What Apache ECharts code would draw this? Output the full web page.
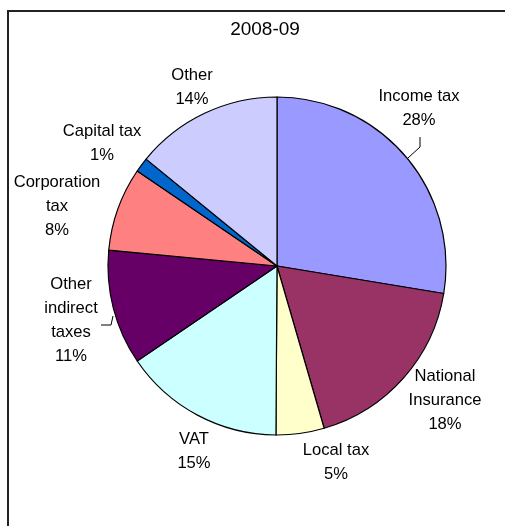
<!DOCTYPE html>
<html>
<head>
<meta charset="utf-8">
<script src="https://cdn.jsdelivr.net/npm/echarts@6/dist/echarts.min.js"></script>
<style>
html,body{margin:0;padding:0;background:#fff;}
#chart{width:505px;height:526px;}
</style>
</head>
<body>
<div id="chart"></div>
<script>
const title = '2008-09';
const categories = ['Income tax', 'National Insurance', 'Local tax', 'VAT', 'Other indirect taxes', 'Corporation tax', 'Capital tax', 'Other'];
const labelNames = ['Income tax', 'National\nInsurance', 'Local tax', 'VAT', 'Other\nindirect\ntaxes', 'Corporation\ntax', 'Capital tax', 'Other'];
const values = [27.6, 17.9, 4.6, 15.4, 11.0, 8.0, 1.4, 14.1];
const colors = ['#9999FF', '#993366', '#FFFFCC', '#CCFFFF', '#660066', '#FF8080', '#0066CC', '#CCCCFF'];

// label centre positions (layout only)
const labelPos = [[419,108],[445,400],[336,462],[194,451],[71,320],[57,206],[102,143],[192,87]];
const leaderLines = {
  0: [[408,158],[420,147],[420,137]],
  4: [[113,316],[111,325],[101,325]]
};

const chart = echarts.init(document.getElementById('chart'));
chart.setOption({
  animation: false,
  backgroundColor: '#fff',
  title: {
    text: title, left: 260, top: 15, textAlign: 'center',
    textStyle: {fontFamily: 'Liberation Sans, Arial, sans-serif', fontSize: 19, fontWeight: 'normal', color: '#000'}
  },
  graphic: [{
    type: 'rect', shape: {x: 8, y: 11, width: 520, height: 540},
    style: {fill: 'none', stroke: '#222', lineWidth: 2}, silent: true
  }],
  series: [{
    type: 'pie',
    center: [277, 266],
    radius: [0, 169],
    startAngle: 90,
    clockwise: true,
    avoidLabelOverlap: false,
    data: categories.map((c, i) => ({
      name: c, value: values[i],
      itemStyle: {color: colors[i]},
      labelLine: {show: leaderLines[i] !== undefined}
    })),
    itemStyle: {borderColor: '#000', borderWidth: 1.2},
    label: {
      show: true,
      position: 'outside',
      formatter: p => labelNames[p.dataIndex] + '\n' + Math.round(p.percent) + '%',
      fontFamily: 'Liberation Sans, Arial, sans-serif',
      fontSize: 16.6, lineHeight: 24, color: '#000', align: 'center'
    },
    labelLine: {lineStyle: {color: '#000', width: 1}, smooth: false},
    labelLayout: function (params) {
      const i = params.dataIndex;
      const r = {x: labelPos[i][0], y: labelPos[i][1], align: 'center', verticalAlign: 'middle'};
      if (leaderLines[i]) r.labelLinePoints = leaderLines[i];
      return r;
    }
  }]
});
</script>
</body>
</html>
